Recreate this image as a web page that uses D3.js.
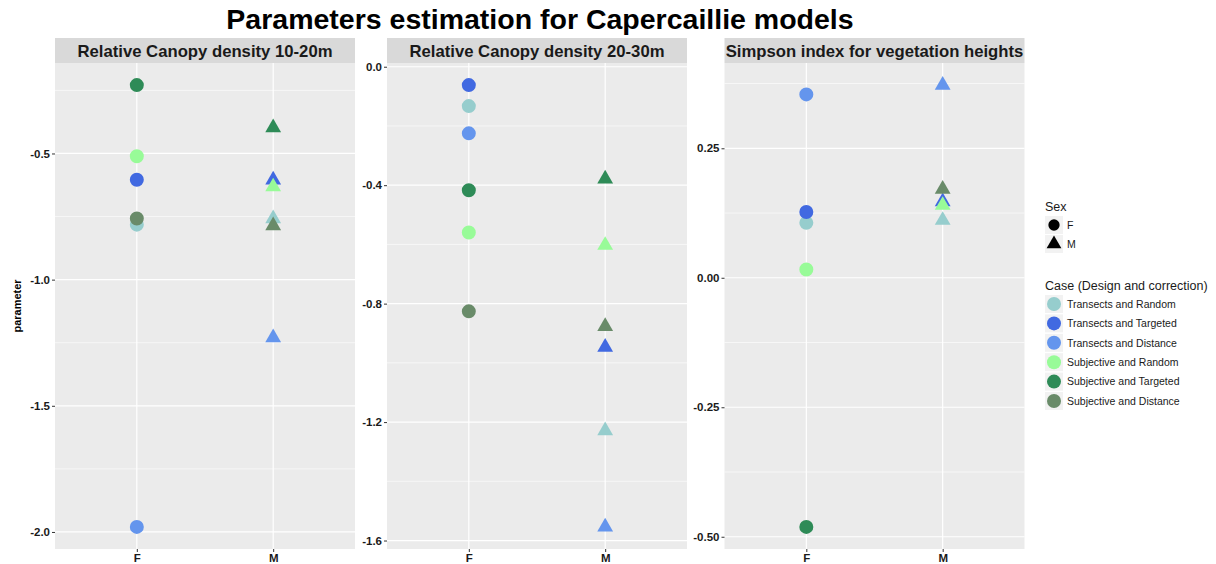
<!DOCTYPE html>
<html>
<head>
<meta charset="utf-8">
<script src="https://cdn.jsdelivr.net/npm/d3@7"></script>
<style>
  body { margin: 0; background: #ffffff; }
  text { font-family: "Liberation Sans", Arial, Helvetica, sans-serif; }
</style>
</head>
<body>
<div id="svg-container"></div>
<script>

const WIDTH = 1216;
const HEIGHT = 564;

const TITLE = "Parameters estimation for Capercaillie models";
const Y_LABEL = "parameter";

const sexes = ["F", "M"];
const cases = [
  "Transects and Random",
  "Transects and Targeted",
  "Transects and Distance",
  "Subjective and Random",
  "Subjective and Targeted",
  "Subjective and Distance"
];
const caseColors = ["#96CDCD", "#4169E1", "#6495ED", "#98FB98", "#2E8B57", "#698B69"];

const panelTitles = [
  "Relative Canopy density 10-20m",
  "Relative Canopy density 20-30m",
  "Simpson index for vegetation heights"
];

// values in the order of "cases", null where no point is drawn
const canopy1020F = [-0.782, -0.604, -1.980, -0.511, -0.229, -0.758];
const canopy1020M = [-0.758, -0.605, -1.230, -0.632, -0.398, -0.786];
const canopy2030F = [-0.133, -0.062, -0.225, -0.560, -0.417, -0.826];
const canopy2030M = [-1.229, -0.947, -1.554, -0.603, -0.379, -0.877];
const simpsonF = [0.106, 0.127, 0.354, 0.016, -0.481, null];
const simpsonM = [0.111, 0.147, 0.372, 0.140, null, 0.171];

const canopy1020Ticks = [-0.5, -1.0, -1.5, -2.0];
const canopy2030Ticks = [0.0, -0.4, -0.8, -1.2, -1.6];
const simpsonTicks = [0.25, 0.00, -0.25, -0.50];

const panels = [
  { title: panelTitles[0], F: canopy1020F, M: canopy1020M, ticks: canopy1020Ticks, fmt: d3.format(".1f") },
  { title: panelTitles[1], F: canopy2030F, M: canopy2030M, ticks: canopy2030Ticks, fmt: d3.format(".1f") },
  { title: panelTitles[2], F: simpsonF, M: simpsonM, ticks: simpsonTicks, fmt: d3.format(".2f") }
];

// layout
const PANEL_LEFT = [55, 387, 724.5];
const PANEL_WIDTH = 300;
const PANEL_TOP = 63;
const PANEL_BOTTOM = 549;
const STRIP_HEIGHT = 25;

const CIRCLE_SIZE = 154;
const TRIANGLE_SIZE = 108;

var svg = d3.select("#svg-container")
  .append("svg")
  .attr("width", WIDTH)
  .attr("height", HEIGHT);

function fmtMinus(f) {
  return function(d) { return f(d).replace("\u2212", "-"); };
}

function symbolFor(sex, size) {
  return d3.symbol().type(sex === "F" ? d3.symbolCircle : d3.symbolTriangle).size(size)();
}

function styleAxis(axis) {
  axis.select(".domain").remove();
  axis.selectAll(".tick line").attr("stroke", "#333333");
  axis.selectAll(".tick text")
    .attr("font-size", "11.5px")
    .attr("font-weight", "bold")
    .attr("fill", "#1A1A1A")
    .style("font-family", "'Liberation Sans', Arial, sans-serif");
}

function drawPanel(panel, i) {

  var left = PANEL_LEFT[i];
  var g = svg.append("g").attr("transform", "translate(" + left + ",0)");

  var values = panel.F.concat(panel.M).filter(function(v) { return v !== null; });
  var ext = d3.extent(values);
  var pad = 0.05 * (ext[1] - ext[0]);

  var y = d3.scaleLinear()
    .domain([ext[0] - pad, ext[1] + pad])
    .range([PANEL_BOTTOM, PANEL_TOP]);

  // two discrete levels with 0.6 expansion on each side
  var x = d3.scalePoint()
    .domain(sexes)
    .range([0, PANEL_WIDTH])
    .padding(0.6);

  // panel background
  g.append("rect")
    .attr("x", 0)
    .attr("y", PANEL_TOP)
    .attr("width", PANEL_WIDTH)
    .attr("height", PANEL_BOTTOM - PANEL_TOP)
    .attr("fill", "#EBEBEB");

  // minor grid lines halfway between the major ticks
  var step = panel.ticks[0] - panel.ticks[1];
  var minor = [panel.ticks[0] + step / 2].concat(panel.ticks.map(function(t) { return t - step / 2; }))
    .filter(function(v) { return v >= y.domain()[0] && v <= y.domain()[1]; });

  g.append("g").selectAll("line")
    .data(minor)
    .enter().append("line")
    .attr("x1", 0)
    .attr("x2", PANEL_WIDTH)
    .attr("y1", function(d) { return y(d); })
    .attr("y2", function(d) { return y(d); })
    .style("stroke", "#ffffff")
    .style("stroke-width", 0.6);

  g.append("g").selectAll("line")
    .data(panel.ticks)
    .enter().append("line")
    .attr("x1", 0)
    .attr("x2", PANEL_WIDTH)
    .attr("y1", function(d) { return y(d); })
    .attr("y2", function(d) { return y(d); })
    .style("stroke", "#ffffff")
    .style("stroke-width", 1.2);

  g.append("g").selectAll("line")
    .data(sexes)
    .enter().append("line")
    .attr("x1", function(d) { return x(d); })
    .attr("x2", function(d) { return x(d); })
    .attr("y1", PANEL_TOP)
    .attr("y2", PANEL_BOTTOM)
    .style("stroke", "#ffffff")
    .style("stroke-width", 1.2);

  // strip
  g.append("rect")
    .attr("x", 0)
    .attr("y", PANEL_TOP - STRIP_HEIGHT)
    .attr("width", PANEL_WIDTH)
    .attr("height", STRIP_HEIGHT)
    .attr("fill", "#D9D9D9");

  g.append("text")
    .attr("x", PANEL_WIDTH / 2)
    .attr("y", PANEL_TOP - STRIP_HEIGHT / 2)
    .attr("dy", "0.36em")
    .attr("text-anchor", "middle")
    .attr("font-size", "16.7px")
    .attr("font-weight", "bold")
    .attr("fill", "#1A1A1A")
    .text(panel.title);

  // axes
  var yAxis = g.append("g")
    .call(d3.axisLeft(y).tickValues(panel.ticks).tickSize(3).tickPadding(2).tickFormat(fmtMinus(panel.fmt)));
  styleAxis(yAxis);

  var xAxis = g.append("g")
    .attr("transform", "translate(0," + PANEL_BOTTOM + ")")
    .call(d3.axisBottom(x).tickSize(3).tickPadding(2));
  styleAxis(xAxis);

  // points, drawn case by case so later cases sit on top
  var points = [];
  cases.forEach(function(c, k) {
    sexes.forEach(function(s) {
      var v = panel[s][k];
      if (v !== null) points.push({ sex: s, caseIndex: k, value: v });
    });
  });

  g.append("g").selectAll("path")
    .data(points)
    .enter().append("path")
    .attr("d", function(d) { return symbolFor(d.sex, d.sex === "F" ? CIRCLE_SIZE : TRIANGLE_SIZE); })
    .attr("transform", function(d) { return "translate(" + x(d.sex) + "," + y(d.value) + ")"; })
    .attr("fill", function(d) { return caseColors[d.caseIndex]; });

}

panels.forEach(drawPanel);

// title and y label
svg.append("text")
  .attr("x", 540)
  .attr("y", 29)
  .attr("text-anchor", "middle")
  .attr("font-size", "28.5px")
  .attr("font-weight", "bold")
  .attr("fill", "#000000")
  .text(TITLE);

svg.append("text")
  .attr("transform", "translate(21," + ((PANEL_TOP + PANEL_BOTTOM) / 2) + ") rotate(-90)")
  .attr("text-anchor", "middle")
  .attr("font-size", "11px")
  .attr("font-weight", "bold")
  .attr("fill", "#000000")
  .text(Y_LABEL);

// legends
const LEGEND_X = 1045;
const KEY = 18;

var legend = svg.append("g");

legend.append("text")
  .attr("x", LEGEND_X)
  .attr("y", 211)
  .attr("font-size", "12.5px")
  .attr("fill", "#1A1A1A")
  .text("Sex");

var sexRows = legend.append("g").selectAll("g")
  .data(sexes)
  .enter().append("g")
  .attr("transform", function(d, i) { return "translate(" + LEGEND_X + "," + (216 + i * 19) + ")"; });

sexRows.append("rect")
  .attr("width", KEY)
  .attr("height", KEY)
  .attr("fill", "#F2F2F2");

sexRows.append("path")
  .attr("transform", "translate(" + (KEY / 2) + "," + (KEY / 2) + ")")
  .attr("d", function(d) { return symbolFor(d, d === "F" ? 100 : 95); })
  .attr("fill", "#000000");

sexRows.append("text")
  .attr("x", KEY + 4)
  .attr("y", KEY / 2)
  .attr("dy", "0.36em")
  .attr("font-size", "10.5px")
  .attr("fill", "#1A1A1A")
  .text(function(d) { return d; });

legend.append("text")
  .attr("x", LEGEND_X)
  .attr("y", 290)
  .attr("font-size", "12.5px")
  .attr("fill", "#1A1A1A")
  .text("Case (Design and correction)");

var caseRows = legend.append("g").selectAll("g")
  .data(cases)
  .enter().append("g")
  .attr("transform", function(d, i) { return "translate(" + LEGEND_X + "," + (295 + i * 19.4) + ")"; });

caseRows.append("rect")
  .attr("width", KEY)
  .attr("height", KEY)
  .attr("fill", "#F2F2F2");

caseRows.append("circle")
  .attr("cx", KEY / 2)
  .attr("cy", KEY / 2)
  .attr("r", 7)
  .attr("fill", function(d, i) { return caseColors[i]; });

caseRows.append("text")
  .attr("x", KEY + 4)
  .attr("y", KEY / 2)
  .attr("dy", "0.36em")
  .attr("font-size", "10.5px")
  .attr("fill", "#1A1A1A")
  .text(function(d) { return d; });

</script>
</body>
</html>
